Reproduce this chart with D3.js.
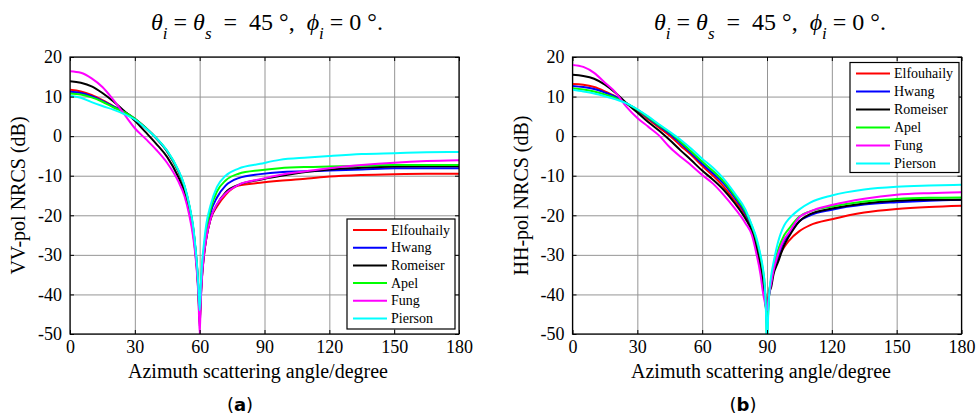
<!DOCTYPE html>
<html><head><meta charset="utf-8">
<script src="https://cdn.jsdelivr.net/npm/d3@7"></script>
<style>body{margin:0;background:#fff} svg{display:block} text{font-family:"Liberation Serif","Times New Roman",serif;}</style>
</head><body><svg id="c" width="979" height="418"></svg>
<script>
// ---------- data ----------
const seriesNames  = ["Elfouhaily","Hwang","Romeiser","Apel","Fung","Pierson"];
const seriesColors = ["#ff0000","#0000ff","#000000","#00ff00","#ff00ff","#00ffff"];
const xTicks = [0,30,60,90,120,150,180];
const yTicks = [-50,-40,-30,-20,-10,0,10,20];

// (a) VV-pol
const vvAngles = [0,5,10,15,20,25,30,35,40,45,50,53,55,57,58,59,59.5,60,60.5,61,62,63,65,68,72,78,88,97,110,120,135,150,165,180];
const vvElfouhaily = [11.7,11.3,10.4,9.1,7.6,6.2,4.4,2.1,-0.6,-3.9,-8.8,-12.9,-17.3,-23.5,-28.5,-35.0,-40.0,-47,-41,-36,-30,-26,-21,-17.8,-14.8,-12.5,-11.8,-11.3,-10.7,-10.2,-9.8,-9.6,-9.5,-9.5];
const vvHwang      = [11.2,10.9,10.1,8.9,7.5,6.2,4.4,2.1,-0.6,-3.9,-8.7,-12.8,-17.2,-23.3,-28.3,-34.8,-39.8,-46,-40,-35,-29,-25,-19.5,-15.5,-12.5,-10.6,-9.6,-9.1,-8.9,-8.7,-8.4,-8.1,-8.1,-8.1];
const vvRomeiser   = [13.9,13.5,12.6,10.9,8.8,6.4,3.9,1.0,-2.0,-5.3,-10.2,-14.2,-18.6,-24.5,-29.3,-35.8,-40.8,-48,-41,-36,-30,-26,-21,-17.3,-14.2,-12.3,-11.0,-10.1,-9.0,-8.4,-8.0,-7.7,-7.6,-7.6];
const vvApel       = [10.8,10.5,9.8,8.7,7.3,6.1,4.4,2.1,-0.5,-3.8,-8.6,-12.7,-17.1,-23.2,-28.2,-34.6,-39.6,-45,-39,-34,-28.5,-24,-18.5,-14.0,-11.2,-9.5,-8.6,-8.1,-7.8,-7.7,-7.5,-7.3,-7.3,-7.3];
const vvFung       = [16.4,16.0,14.6,12.4,9.2,5.6,2.0,-0.7,-3.5,-6.8,-11.3,-15.2,-19.5,-25.5,-30.0,-36.5,-41.5,-50,-42,-36.5,-30,-26,-21,-17.2,-14.5,-12.3,-10.9,-9.8,-8.8,-8.1,-7.3,-6.7,-6.3,-6.1];
const vvPierson    = [10.2,9.7,8.6,7.6,6.7,5.6,4.2,2.0,-0.5,-3.7,-8.4,-12.5,-16.8,-22.8,-27.8,-34.2,-39.0,-44,-38,-33,-27,-22.5,-17.5,-12.8,-10.0,-8.2,-7.0,-6.0,-5.4,-5.0,-4.5,-4.3,-4.1,-4.0];

// (b) HH-pol
const hhAngles = [0,5,10,15,20,25,30,35,40,45,50,55,60,65,70,75,80,83,85,87,88,89,89.5,90,90.5,91,92,93,95,98,100,105,110,120,135,150,165,180];
const hhElfouhaily = [13.2,13.0,12.4,11.3,10.0,8.3,6.4,4.3,2.2,0.1,-2.4,-4.8,-7.5,-10.0,-12.8,-16.3,-20.0,-23.5,-27.0,-32.0,-35.0,-39.0,-42.0,-45,-42,-39,-37,-34,-31,-28,-26.5,-24,-22.5,-21.0,-19.3,-18.4,-17.9,-17.6];
const hhHwang      = [12.7,12.4,11.9,11.0,9.9,8.3,6.6,4.6,2.6,0.6,-1.8,-4.3,-7.0,-9.4,-12.0,-15.5,-19.5,-23.0,-26.5,-31.0,-34.0,-39.0,-43.0,-48,-44,-40,-37,-34,-30.5,-26.5,-25,-21.5,-20.0,-18.6,-17.3,-16.7,-16.3,-16.1];
const hhRomeiser   = [15.5,15.2,14.5,13.0,10.9,8.3,6.0,3.6,1.4,-1.0,-3.6,-6.1,-8.7,-11.0,-13.6,-16.9,-20.8,-24.0,-28.0,-33.0,-36.5,-41.0,-43.5,-46,-43,-40,-38,-35,-32,-27.5,-25.5,-21.5,-19.7,-18.3,-17.0,-16.3,-16.1,-16.1];
const hhApel       = [12.1,11.8,11.3,10.5,9.6,8.3,6.7,4.8,2.8,0.9,-1.4,-3.9,-6.4,-8.8,-11.5,-15.0,-19.0,-22.7,-26.0,-30.5,-33.5,-38.0,-43.0,-52,-45,-40,-36,-33,-29,-25,-23.5,-20.3,-19.0,-17.8,-16.5,-15.9,-15.6,-15.5];
const hhFung       = [18.0,17.5,16.0,13.5,11.0,7.4,4.6,2.4,0.2,-2.8,-5.2,-7.4,-9.8,-12.0,-14.9,-18.2,-22.0,-25.0,-29.5,-35.0,-39.0,-42.0,-43.0,-44,-42,-40,-37,-34,-30,-26,-24.5,-20.5,-19.0,-17.4,-15.8,-14.8,-14.4,-14.2];
const hhPierson    = [11.7,11.3,10.8,10.1,9.3,8.3,6.8,5.0,3.0,1.1,-0.9,-3.2,-5.7,-8.0,-10.8,-14.4,-18.5,-22.5,-25.5,-30.0,-33.0,-38.0,-44.0,-55,-46,-40,-35,-32,-27,-22.5,-21,-18.5,-16.8,-15.0,-13.5,-12.8,-12.5,-12.3];

// ---------- drawing ----------
const svg = d3.select("#c");
const SERIF = "'Liberation Serif','Times New Roman',serif";

function titleText(g, cx, y){
  const t = g.append("text").attr("x", cx).attr("y", y).attr("text-anchor","middle")
    .style("font-size","24px").style("white-space","pre").style("font-family",SERIF);
  const add = (s, it, sub) => {
    const ts = t.append("tspan").text(s);
    if (it) ts.style("font-style","italic");
    if (sub) ts.attr("dy", 9).style("font-size","17px");
    return ts;
  };
  add("\u03b8", true); add("i", true, true);
  t.append("tspan").attr("dy",-9).text(" = ");
  add("\u03b8", true); add("s", true, true);
  t.append("tspan").attr("dy",-9).text("  =  45 \u00b0,  ");
  add("\u03d5", true); add("i", true, true);
  t.append("tspan").attr("dy",-9).text(" = 0 \u00b0.");
}

function styleLabels(a){
  a.select(".domain").remove();
  a.selectAll("text").style("font-size","18px").style("font-family",SERIF).attr("fill","#000");
  a.selectAll("line").attr("stroke","#000");
}

function panel(opt){
  const g = svg.append("g");
  const x = d3.scaleLinear().domain([0,180]).range([opt.x0, opt.x1]);
  const y = d3.scaleLinear().domain([-50,20]).range([opt.y1, opt.y0]);
  const id = "clip" + opt.letter;
  svg.append("clipPath").attr("id", id).append("rect")
    .attr("x", opt.x0).attr("y", opt.y0).attr("width", opt.x1-opt.x0).attr("height", opt.y1-opt.y0);

  // grid
  g.append("g").attr("transform",`translate(0,${opt.y1})`)
    .call(d3.axisBottom(x).tickValues(xTicks).tickSize(-(opt.y1-opt.y0)).tickFormat(""))
    .call(a=>{a.select(".domain").remove(); a.selectAll("line").attr("stroke","#959595").attr("stroke-width",1);});
  g.append("g").attr("transform",`translate(${opt.x0},0)`)
    .call(d3.axisLeft(y).tickValues(yTicks).tickSize(-(opt.x1-opt.x0)).tickFormat(""))
    .call(a=>{a.select(".domain").remove(); a.selectAll("line").attr("stroke","#959595").attr("stroke-width",1);});

  // lines
  const line = d3.line().x((d,i)=>x(opt.angles[i])).y(d=>y(d)).curve(d3.curveMonotoneX);
  g.append("g").attr("clip-path",`url(#${id})`).selectAll("path").data(opt.series).join("path")
    .attr("d", d=>line(d)).attr("fill","none")
    .attr("stroke",(d,i)=>seriesColors[i]).attr("stroke-width",2).attr("stroke-linejoin","round");

  // inner ticks on all sides
  const tk = 4;
  const fmt = d => String(d);
  g.append("g").attr("transform",`translate(0,${opt.y1})`)
    .call(d3.axisBottom(x).tickValues(xTicks).tickSizeInner(-tk).tickSizeOuter(0).tickPadding(8).tickFormat(fmt))
    .call(styleLabels).call(a=>a.selectAll("text").attr("dy","0.6em"));
  g.append("g").attr("transform",`translate(0,${opt.y0})`)
    .call(d3.axisTop(x).tickValues(xTicks).tickSizeInner(-tk).tickSizeOuter(0).tickFormat(""))
    .call(styleLabels);
  g.append("g").attr("transform",`translate(${opt.x0},0)`)
    .call(d3.axisLeft(y).tickValues(yTicks).tickSizeInner(-tk).tickSizeOuter(0).tickPadding(8).tickFormat(fmt))
    .call(styleLabels);
  g.append("g").attr("transform",`translate(${opt.x1},0)`)
    .call(d3.axisRight(y).tickValues(yTicks).tickSizeInner(-tk).tickSizeOuter(0).tickFormat(""))
    .call(styleLabels);
  g.append("rect").attr("x",opt.x0).attr("y",opt.y0).attr("width",opt.x1-opt.x0).attr("height",opt.y1-opt.y0)
    .attr("fill","none").attr("stroke","#000").attr("stroke-width",1.2);

  // axis labels
  g.append("text").attr("x",opt.xlabX).attr("y",378).attr("text-anchor","middle").style("font-size","20px")
    .style("font-family",SERIF).text("Azimuth scattering angle/degree");
  g.append("text").attr("transform",`translate(${opt.ylabX},${(opt.y0+opt.y1)/2}) rotate(-90)`)
    .attr("text-anchor","middle").style("font-size","20px").style("font-family",SERIF).text(opt.ylabel);
  titleText(g, opt.titleX, 30);
  g.append("text").attr("x",opt.letterX).attr("y",411).attr("text-anchor","middle").style("font-size","18px")
    .style("font-family","'DejaVu Sans','Liberation Sans',sans-serif")
    .html(`(<tspan font-weight="bold">${opt.letter}</tspan>)`);

  // legend
  const L = opt.legend;
  const lg = g.append("g");
  lg.append("rect").attr("x",L.x).attr("y",L.y).attr("width",L.w).attr("height",L.h)
    .attr("fill","#fff").attr("stroke","#000").attr("stroke-width",1.2);
  seriesNames.forEach((n,i)=>{
    const yy = L.y + L.first + i*L.step;
    lg.append("line").attr("x1",L.x+6).attr("x2",L.x+40).attr("y1",yy).attr("y2",yy)
      .attr("stroke",seriesColors[i]).attr("stroke-width",2);
    lg.append("text").attr("x",L.x+44).attr("y",yy+4.5).style("font-size","14px").style("font-family",SERIF).text(n);
  });
}

panel({letter:"a", x0:70, x1:459, y0:57, y1:334, angles:vvAngles,
  series:[vvElfouhaily,vvHwang,vvRomeiser,vvApel,vvFung,vvPierson],
  ylabel:"VV-pol NRCS (dB)", ylabX:25, xlabX:258, titleX:267, letterX:240,
  legend:{x:347, y:219, w:108, h:110, first:11, step:17.7}});
panel({letter:"b", x0:572.5, x1:961.5, y0:57, y1:334, angles:hhAngles,
  series:[hhElfouhaily,hhHwang,hhRomeiser,hhApel,hhFung,hhPierson],
  ylabel:"HH-pol NRCS (dB)", ylabX:528, xlabX:761, titleX:770, letterX:743,
  legend:{x:850, y:62.5, w:109, h:110, first:11, step:18}});
</script></body></html>
